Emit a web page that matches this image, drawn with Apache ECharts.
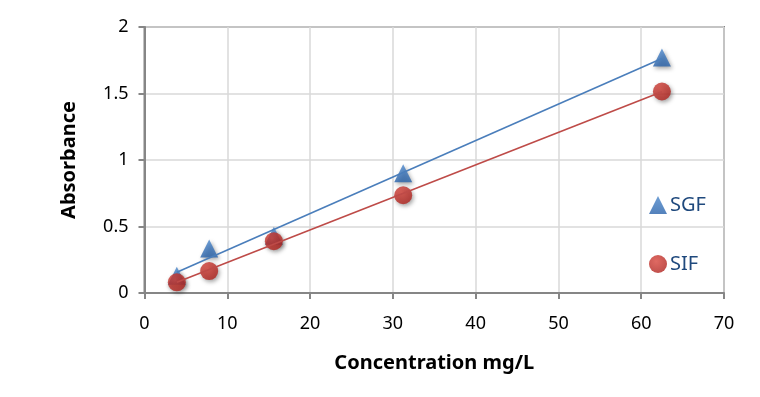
<!DOCTYPE html>
<html><head><meta charset="utf-8">
<script src="https://cdn.jsdelivr.net/npm/echarts@6/dist/echarts.min.js"></script>
<style>html,body{margin:0;padding:0;background:#fff}#c{width:760px;height:397px}</style>
</head><body><div id="c"></div>
<script>
const concentration = [3.90625, 7.8125, 15.625, 31.25, 62.5];
const sgfValues = [0.13, 0.335, 0.43, 0.9, 1.77];
const sifValues = [0.08, 0.165, 0.39, 0.735, 1.515];
const seriesNames = ['SGF', 'SIF'];
const xTicks = [0, 10, 20, 30, 40, 50, 60, 70];
const yTicks = [0, 0.5, 1, 1.5, 2];
const xTitle = 'Concentration mg/L';
const yTitle = 'Absorbance';

function fit(xs, ys) {
  const n = xs.length;
  const mx = xs.reduce((a, b) => a + b, 0) / n;
  const my = ys.reduce((a, b) => a + b, 0) / n;
  let sxy = 0, sxx = 0;
  for (let i = 0; i < n; i++) { sxy += (xs[i] - mx) * (ys[i] - my); sxx += (xs[i] - mx) ** 2; }
  const b = sxy / sxx, a = my - b * mx;
  const x0 = Math.min(...xs), x1 = Math.max(...xs);
  return [[x0, a + b * x0], [x1, a + b * x1]];
}
const pairs = (xs, ys) => xs.map((x, i) => [x, ys[i]]);

const FONT = '"Noto Sans", sans-serif';
const chart = echarts.init(document.getElementById('c'), null, {renderer: 'canvas'});
const blueFill = new echarts.graphic.LinearGradient(0, 0, 0, 1, [{offset: 0, color: '#4A86CB'}, {offset: 1, color: '#2862AA'}]);
const redFill = new echarts.graphic.RadialGradient(0.4, 0.35, 0.7, [{offset: 0, color: '#D8443B'}, {offset: 1, color: '#AE221D'}]);
const shadow = {shadowBlur: 4, shadowColor: 'rgba(0,0,0,0.45)', shadowOffsetX: 1.5, shadowOffsetY: 2};

chart.setOption({
  animation: false,
  grid: {left: 144.5, right: 36, top: 27, bottom: 104, show: true, borderColor: '#868686', borderWidth: 2},
  legend: {
    orient: 'vertical', left: 644, top: 190, itemWidth: 18, itemHeight: 18, itemGap: 39,
    data: [{name: seriesNames[0], icon: 'triangle'}, {name: seriesNames[1], icon: 'circle'}],
    textStyle: {color: '#1F497D', fontSize: 20, fontFamily: FONT, padding: [0, 0, 0, -2]}
  },
  xAxis: {
    type: 'value', min: xTicks[0], max: xTicks[xTicks.length - 1], interval: 10,
    name: xTitle, nameLocation: 'middle', nameGap: 60,
    nameTextStyle: {fontFamily: FONT, fontSize: 20, fontWeight: 'bold', color: '#000'},
    axisLine: {lineStyle: {color: '#868686', width: 2}},
    axisTick: {show: true, length: 6, lineStyle: {color: '#868686', width: 2}},
    axisLabel: {fontFamily: FONT, fontSize: 18, color: '#000', margin: 22},
    splitLine: {show: true, lineStyle: {color: '#D9D9D9', width: 1.5}}
  },
  yAxis: {
    type: 'value', min: yTicks[0], max: yTicks[yTicks.length - 1], interval: 0.5,
    name: yTitle, nameLocation: 'middle', nameGap: 65, nameRotate: 90,
    nameTextStyle: {fontFamily: FONT, fontSize: 20, fontWeight: 'bold', color: '#000'},
    axisLine: {show: true, lineStyle: {color: '#868686', width: 2}},
    axisTick: {show: true, length: 6, lineStyle: {color: '#868686', width: 2}},
    axisLabel: {fontFamily: FONT, fontSize: 18, color: '#000', margin: 16, formatter: v => String(v)},
    splitLine: {show: true, lineStyle: {color: '#D9D9D9', width: 1.5}}
  },
  series: [
    {name: seriesNames[0], type: 'scatter', symbol: 'triangle', symbolSize: 18, z: 2,
     data: pairs(concentration, sgfValues), itemStyle: Object.assign({color: blueFill}, shadow)},
    {name: seriesNames[1], type: 'scatter', symbol: 'circle', symbolSize: 18, z: 2,
     data: pairs(concentration, sifValues), itemStyle: Object.assign({color: redFill}, shadow)},
    {name: 'SGF fit', type: 'line', showSymbol: false, symbol: 'none', z: 3, silent: true,
     data: fit(concentration, sgfValues), lineStyle: {color: '#4A7EBB', width: 1.6}},
    {name: 'SIF fit', type: 'line', showSymbol: false, symbol: 'none', z: 3, silent: true,
     data: fit(concentration, sifValues), lineStyle: {color: '#BE4B48', width: 1.6}}
  ]
});
</script></body></html>
